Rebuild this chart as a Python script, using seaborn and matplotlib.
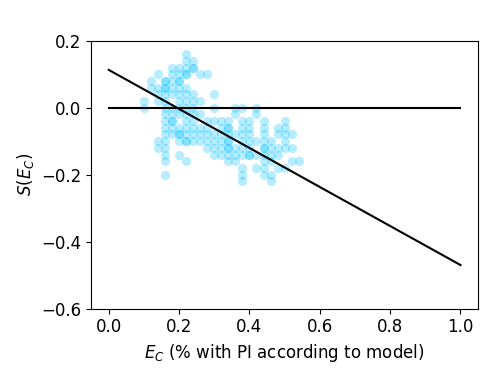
import numpy as np
import pandas as pd
import matplotlib
matplotlib.use('Agg')
import matplotlib.pyplot as plt
import seaborn as sns

# scatter values, one list per row of S(E_C)
row_y = [0.16, 0.14, 0.12, 0.10, 0.08, 0.06, 0.04, 0.02, 0.00, -0.02,
         -0.04, -0.06, -0.08, -0.10, -0.12, -0.14, -0.16, -0.18, -0.20, -0.22]
row_x = [
    [0.22],
    [0.22, 0.24],
    [0.18, 0.20, 0.22, 0.24, 0.24],
    [0.14, 0.18, 0.20, 0.22, 0.22, 0.26, 0.28],
    [0.12, 0.16, 0.16, 0.18, 0.20, 0.20],
    [0.12, 0.14, 0.16, 0.16, 0.18, 0.20, 0.22],
    [0.14, 0.16, 0.18, 0.20, 0.22, 0.24, 0.30],
    [0.10, 0.14, 0.16, 0.20, 0.22, 0.24, 0.26],
    [0.10, 0.16, 0.18, 0.20, 0.22, 0.24, 0.30, 0.36, 0.38, 0.42],
    [0.16, 0.18, 0.20, 0.22, 0.24, 0.26, 0.36, 0.42],
    [0.16, 0.18, 0.18, 0.22, 0.24, 0.28, 0.30, 0.32, 0.34, 0.38, 0.40, 0.44, 0.50],
    [0.16, 0.18, 0.20, 0.22, 0.24, 0.26, 0.28, 0.32, 0.34, 0.34, 0.38, 0.40, 0.44, 0.48, 0.50],
    [0.16, 0.18, 0.20, 0.20, 0.22, 0.24, 0.26, 0.28, 0.30, 0.32, 0.34, 0.36, 0.38, 0.40, 0.44, 0.48, 0.50, 0.52],
    [0.14, 0.16, 0.20, 0.22, 0.22, 0.24, 0.26, 0.28, 0.30, 0.32, 0.34, 0.34, 0.38, 0.40, 0.42, 0.44, 0.46, 0.50],
    [0.14, 0.16, 0.28, 0.30, 0.32, 0.34, 0.34, 0.36, 0.38, 0.40, 0.44, 0.44, 0.46, 0.48, 0.50, 0.52],
    [0.16, 0.20, 0.30, 0.32, 0.34, 0.36, 0.38, 0.40, 0.40, 0.42, 0.44, 0.46, 0.48],
    [0.16, 0.22, 0.34, 0.36, 0.44, 0.46, 0.52, 0.54],
    [0.38, 0.42, 0.44, 0.48, 0.50],
    [0.16, 0.38, 0.44, 0.46],
    [0.38, 0.46],
]

# fitted line and zero reference
fit_x = [0.0, 1.0]
fit_y = [0.113, -0.470]
zero_x = [0.0, 1.0]
zero_y = [0.0, 0.0]

xs, ys = [], []
for yv, xr in zip(row_y, row_x):
    xs.extend(xr)
    ys.extend([yv] * len(xr))
df = pd.DataFrame({'E_C': xs, 'S': ys})

plt.rcParams['font.size'] = 12
fig, ax = plt.subplots(figsize=(4.98, 3.74), dpi=100)
fig.subplots_adjust(left=0.183, right=0.96, bottom=0.175, top=0.891)

sns.scatterplot(data=df, x='E_C', y='S', color='deepskyblue', alpha=0.28,
                s=44, linewidth=0, ax=ax, zorder=1)
ax.plot(zero_x, zero_y, color='black', lw=1.5, zorder=2)
ax.plot(fit_x, fit_y, color='black', lw=1.5, zorder=2)

ax.set_xlim(-0.05, 1.05)
ax.set_ylim(-0.6, 0.2)
ax.set_xticks([0.0, 0.2, 0.4, 0.6, 0.8, 1.0])
ax.set_yticks([-0.6, -0.4, -0.2, 0.0, 0.2])
ax.set_xlabel(r'$E_C$ (% with PI according to model)', fontsize=12)
ax.set_ylabel(r'$S(E_C)$', fontsize=12)
ax.tick_params(labelsize=12)

fig.savefig('out.png', dpi=100)
